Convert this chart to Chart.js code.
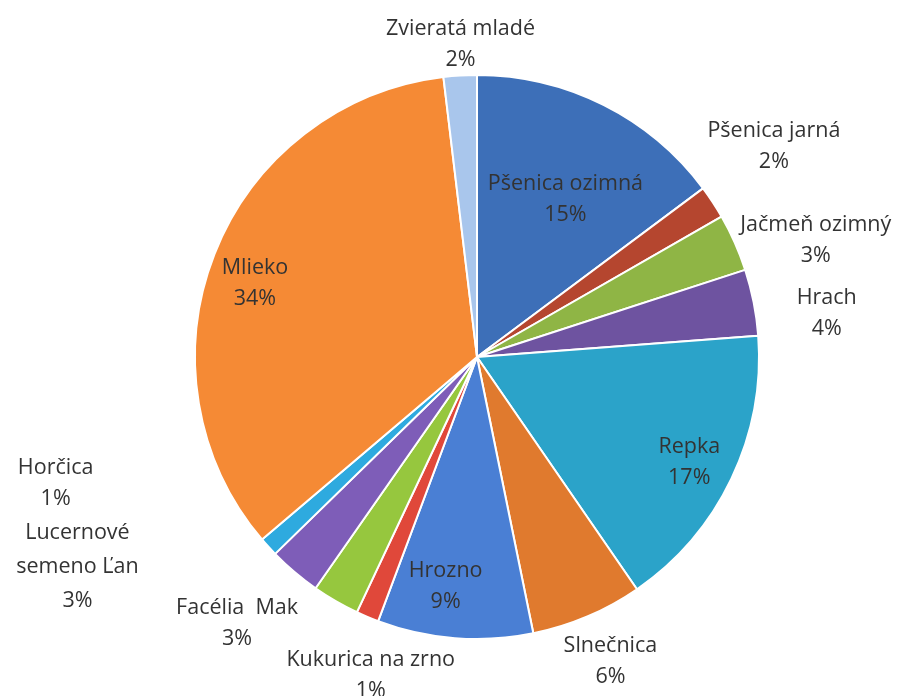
<!DOCTYPE html>
<html>
<head>
<meta charset="utf-8">
<script src="https://cdn.jsdelivr.net/npm/chart.js@4.4.0/dist/chart.umd.min.js"></script>
<style>
    html, body { margin: 0; padding: 0; background: #fff; }
    #wrap { width: 915px; height: 696px; position: relative; }
</style>
</head>
<body>
<div id="wrap"><canvas id="ChartPlodiny"></canvas></div>
<script>
// kategórie a hodnoty (podiel v %)
const categories = ['Pšenica ozimná', 'Pšenica jarná', 'Jačmeň ozimný', 'Hrach', 'Repka', 'Slnečnica',
    'Hrozno', 'Kukurica na zrno', 'Facélia  Mak', 'Lucernové semeno Ľan', 'Horčica', 'Mlieko', 'Zvieratá mladé'];
const values = [14.8, 1.9, 3.3, 3.8, 16.6, 6.4, 8.9, 1.3, 2.7, 3.0, 1.1, 34.3, 1.9];

const colors = ['#3d6fb8', '#b5462f', '#8fb545', '#6e53a0', '#2ba3c9', '#e07a2e',
    '#4a7fd4', '#e0483a', '#96c73e', '#7e5db8', '#2eaadf', '#f58a35', '#a9c6ec'];

// umiestnenie popisov: násobok polomeru a posun uhla (stupne)
const labelRadius = [0.64, 1.29, 1.27, 1.25, 0.84, 1.18, 0.82, 1.19, 1.27, 1.60, 1.56, 0.83, 1.11];
const labelShift = [2.7, -2, 5, 4, 0.8, -0.6, 3.3, -4.4, 12, 22, 25.6, -3, 0.4];
const labelWrap = [0, 0, 0, 0, 0, 0, 0, 0, 0, 150, 0, 0, 0];

const pieLabels = {
    id: 'pieLabels',
    afterDatasetsDraw(chart) {
        const ctx = chart.ctx;
        const meta = chart.getDatasetMeta(0);
        const data = chart.data.datasets[0].data;
        const total = data.reduce((a, b) => a + b, 0);
        ctx.save();
        ctx.font = '21.5px "Open Sans"';
        ctx.fillStyle = '#333333';
        ctx.textAlign = 'center';
        ctx.textBaseline = 'middle';
        meta.data.forEach(function (arc, i) {
            const p = arc.getProps(['x', 'y', 'startAngle', 'endAngle', 'outerRadius'], true);
            const a = (p.startAngle + p.endAngle) / 2 + labelShift[i] * Math.PI / 180;
            const r = p.outerRadius * labelRadius[i];
            const cx = p.x + Math.cos(a) * r;
            const cy = p.y + Math.sin(a) * r;
            let lines = [chart.data.labels[i]];
            if (labelWrap[i]) {
                const words = chart.data.labels[i].split(' ');
                lines = [];
                let cur = '';
                words.forEach(function (w) {
                    const t = cur ? cur + ' ' + w : w;
                    if (cur && ctx.measureText(t).width > labelWrap[i]) {
                        lines.push(cur);
                        cur = w;
                    } else {
                        cur = t;
                    }
                });
                lines.push(cur);
            }
            lines.push(Math.round(data[i] / total * 100) + '%');
            const lh = lines.length > 2 ? 34 : 31;
            const y0 = cy - (lines.length - 1) * lh / 2;
            lines.forEach(function (l, k) {
                ctx.fillText(l, cx, y0 + k * lh);
            });
        });
        ctx.restore();
    }
};

const el = document.getElementById('ChartPlodiny');
new Chart(el, {
    type: 'pie',
    data: {
        labels: categories,
        datasets: [{
            data: values,
            backgroundColor: colors,
            borderColor: '#ffffff',
            borderWidth: 2,
        }]
    },
    options: {
        responsive: true,
        maintainAspectRatio: false,
        animation: false,
        layout: {
            padding: { top: 74, bottom: 56, left: 60, right: 21 }
        },
        plugins: {
            legend: { display: false },
            tooltip: { enabled: false },
            title: { display: false }
        }
    },
    plugins: [pieLabels]
});
</script>
</body>
</html>
